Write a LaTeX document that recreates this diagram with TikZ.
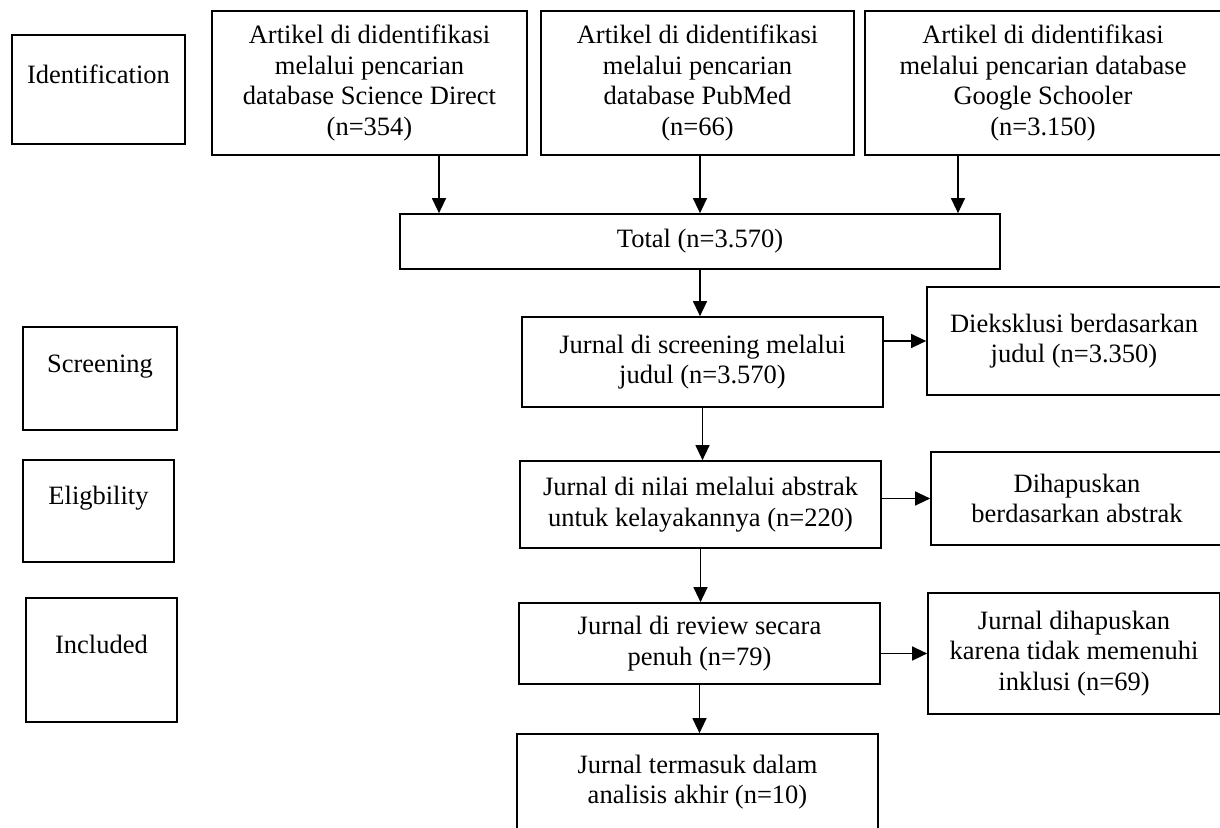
\documentclass[tikz,border=0pt]{standalone}
\usepackage{fontspec}
\setmainfont{Liberation Serif}
\usetikzlibrary{arrows.meta}

\tikzset{
  box/.style={draw, line width=1.7pt, inner sep=0pt, align=center,
    font=\fontsize{26.5}{30.5}\selectfont},
  phasebox/.style={box, text height=18pt, text depth=30.5pt},
  arr/.style={line width=1.3pt, -{Triangle[length=15pt,width=14pt]}}
}

\begin{document}
\begin{tikzpicture}[x=1pt, y=-1pt]
  \useasboundingbox (0,0) rectangle (1220,827);

  % Phase boxes on the left
  \node[phasebox, minimum width=173pt, minimum height=109pt] (ident) at (98.5,89.5) {Identification};
  \node[phasebox, minimum width=154pt, minimum height=103pt] (phscr) at (100,378.5) {Screening};
  \node[phasebox, minimum width=151pt, minimum height=102pt] (phelig) at (98.5,511) {Eligbility};
  \node[phasebox, minimum width=151pt, minimum height=124pt] (phincl) at (101.5,660) {Included};

  % Database searches
  \node[box, minimum width=315pt, minimum height=144pt] (src1) at (369.5,83)
    {Artikel di didentifikasi\\melalui pencarian\\database Science Direct\\(n=354)};
  \node[box, minimum width=313pt, minimum height=144pt] (src2) at (697.5,83)
    {Artikel di didentifikasi\\melalui pencarian\\database PubMed\\(n=66)};
  \node[box, minimum width=356pt, minimum height=144pt] (src3) at (1043,83)
    {Artikel di didentifikasi\\melalui pencarian database\\Google Schooler\\(n=3.150)};

  \node[box, minimum width=600pt, minimum height=55pt] (total) at (700,241.5) {Total (n=3.570)};

  % Main column
  \node[box, minimum width=361pt, minimum height=90pt] (scr) at (702.5,362)
    {Jurnal di screening melalui\\judul (n=3.570)};
  \node[box, minimum width=361pt, minimum height=87pt] (elig) at (700.5,504.5)
    {Jurnal di nilai melalui abstrak\\untuk kelayakannya (n=220)};
  \node[box, minimum width=361pt, minimum height=81pt] (incl) at (699.5,643.5)
    {Jurnal di review secara\\penuh (n=79)};
  \node[box, minimum width=361pt, minimum height=96pt] (final) at (697.5,782)
    {Jurnal termasuk dalam\\analisis akhir (n=10)};

  % Excluded boxes on the right
  \node[box, minimum width=294pt, minimum height=108pt] (excl1) at (1074,341)
    {Dieksklusi berdasarkan\\judul (n=3.350)};
  \node[box, minimum width=292pt, minimum height=93pt] (rem1) at (1077,498.5)
    {Dihapuskan\\berdasarkan abstrak};
  \node[box, minimum width=292pt, minimum height=121pt] (rem2) at (1074,653.5)
    {Jurnal dihapuskan\\karena tidak memenuhi\\inklusi (n=69)};

  % Arrows into the total
  \draw[arr] ([xshift=69.5pt]src1.south) -- ([xshift=69.5pt]src1.south |- total.north);
  \draw[arr] (total.north |- src2.south) -- (total.north);
  \draw[arr] ([xshift=-85pt]src3.south) -- ([xshift=-85pt]src3.south |- total.north);

  % Arrows down the main column
  \draw[arr] (total.south) -- (total.south |- scr.north);
  \draw[arr] (scr.south) -- (scr.south |- elig.north);
  \draw[arr] (elig.south) -- (elig.south |- incl.north);
  \draw[arr] (incl.south) -- (incl.south |- final.north);

  % Arrows to the right
  \draw[arr] (scr.east |- excl1.west) -- (excl1.west);
  \draw[arr] (elig.east |- rem1.west) -- (rem1.west);
  \draw[arr] (incl.east |- rem2.west) -- (rem2.west);
\end{tikzpicture}
\end{document}
